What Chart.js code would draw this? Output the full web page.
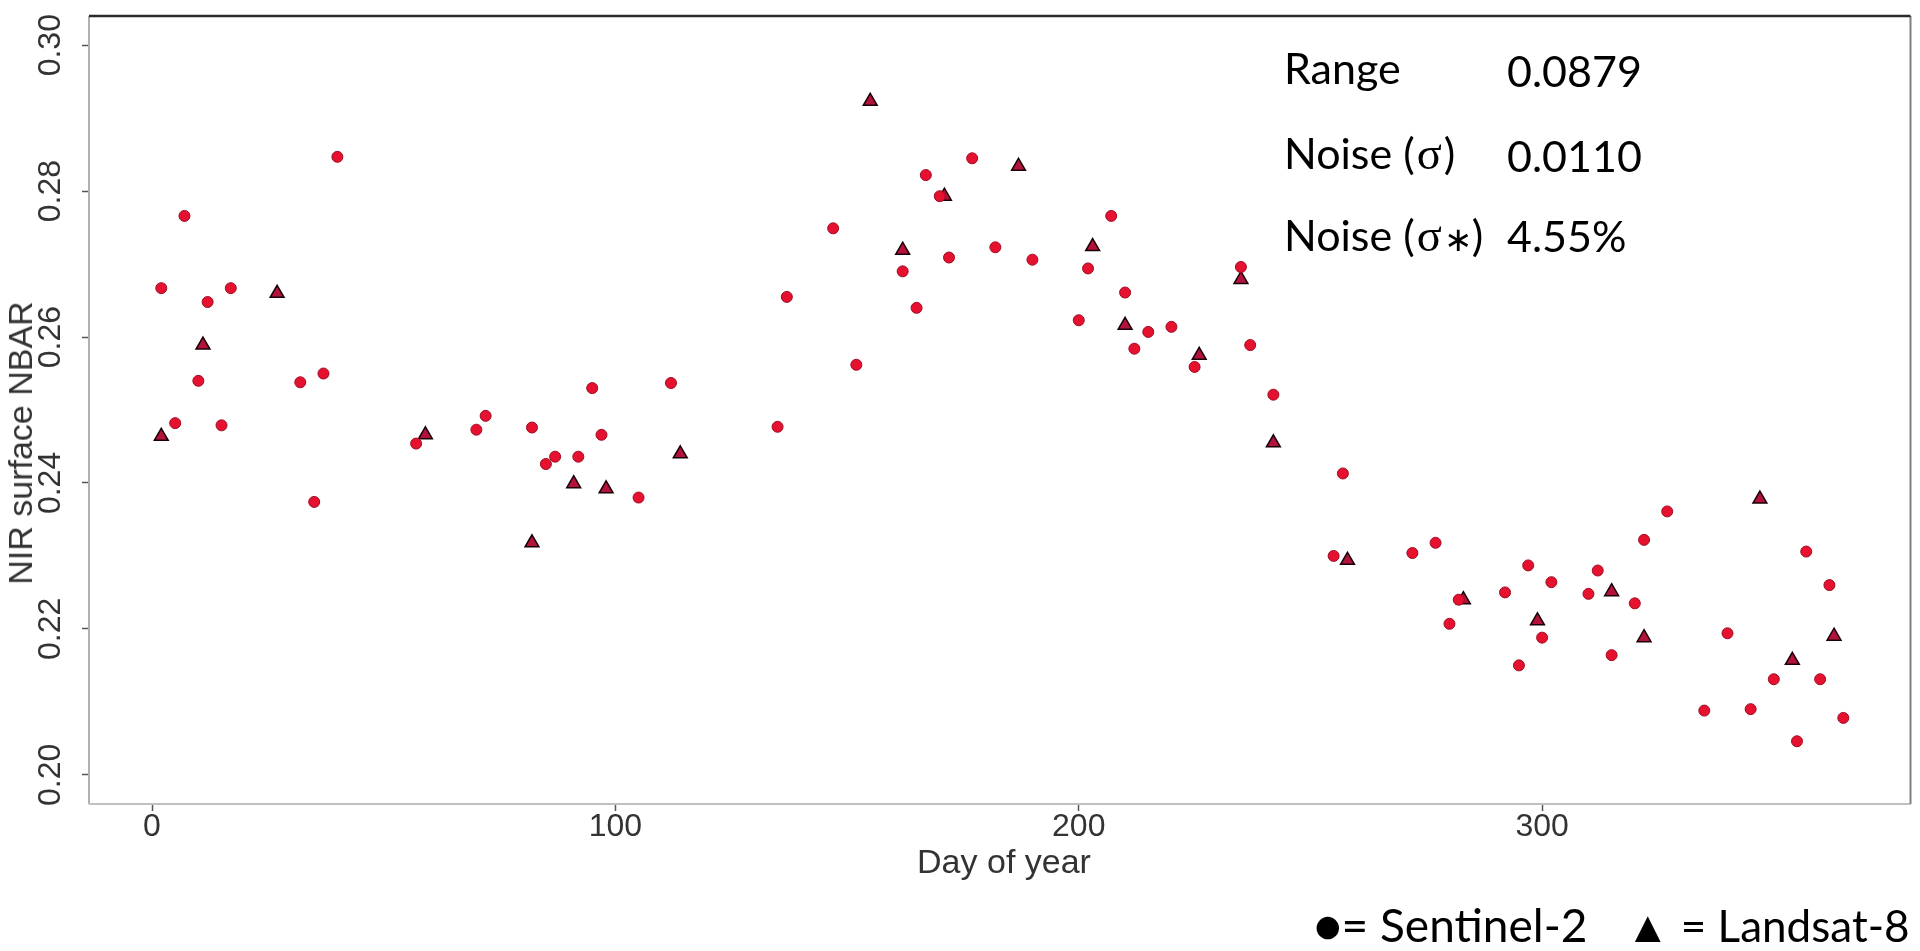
<!DOCTYPE html>
<html>
<head>
<meta charset="utf-8">
<script src="https://cdn.jsdelivr.net/npm/chart.js@4.4.1/dist/chart.umd.min.js"></script>
<style>
  body { margin: 0; background: #fff; }
  #wrap { position: relative; width: 1920px; height: 951px; }
  .lbl { position: absolute; white-space: nowrap; line-height: 1; color: #000;
         font-family: Lato, 'Open Sans', sans-serif; }
  .stat { font-size: 43px; }
  .sym { font-family: 'Liberation Serif', serif; font-size: 1.08em; padding: 0 2px; }
  .ast { font-family: 'Liberation Serif', serif; font-size: 0.8em; }
  .axt { position: absolute; white-space: nowrap; line-height: 1; color: #333;
         font-family: 'Liberation Sans', Arial, sans-serif; font-size: 34px; }
</style>
</head>
<body>
<div id="wrap">
  <canvas id="myChart"></canvas>
  <div class="axt" id="ytitle" style="left:20px; top:443px; transform: translate(-50%,-50%) rotate(-90deg);">NIR surface NBAR</div>
  <div class="axt" id="xtitle" style="left:1004px; top:861px; transform: translate(-50%,-50%);">Day of year</div>

  <div class="lbl stat" style="left:1284px; top:46px;">Range</div>
  <div class="lbl stat" style="left:1507px; top:49px;">0.0879</div>
  <div class="lbl stat" style="left:1284px; top:131px;">Noise (<span class="sym">σ</span>)</div>
  <div class="lbl stat" style="left:1507px; top:134px;">0.0110</div>
  <div class="lbl stat" style="left:1284px; top:213px;">Noise (<span class="sym">σ</span><span class="ast">∗</span>)</div>
  <div class="lbl stat" style="left:1507px; top:214px;">4.55%</div>

  <div class="lbl" style="left:1314px; top:902px; font-size:46px;">●= Sentinel-2</div>
  <div class="lbl" style="left:1626px; top:903px; font-size:44px;">▲ = Landsat-8</div>
</div>
<script>
// Sentinel-2 observations (circles)
var s2Days = [2, 5, 7, 10, 12, 15, 17, 32, 35, 37, 40, 57, 70, 72, 82, 85, 87, 92, 95, 97,
  105, 112, 135, 137, 147, 152, 162, 165, 167, 170, 172, 177, 182, 190, 200, 202, 207, 210,
  212, 215, 220, 225, 235, 237, 242, 255, 257, 272, 277, 280, 282, 292, 295, 297, 300, 302,
  310, 312, 315, 320, 322, 327, 335, 340, 345, 350, 355, 357, 360, 362, 365];
var s2Nbar = [0.2667, 0.2482, 0.2766, 0.2540, 0.2648, 0.2479, 0.2667, 0.2538, 0.2374, 0.2550,
  0.2847, 0.2454, 0.2473, 0.2492, 0.2476, 0.2426, 0.2436, 0.2436, 0.2530, 0.2466,
  0.2380, 0.2537, 0.2477, 0.2655, 0.2749, 0.2562, 0.2690, 0.2640, 0.2822, 0.2793,
  0.2709, 0.2845, 0.2723, 0.2706, 0.2623, 0.2694, 0.2766, 0.2661, 0.2584, 0.2607,
  0.2614, 0.2559, 0.2696, 0.2589, 0.2521, 0.2300, 0.2413, 0.2304, 0.2318, 0.2207,
  0.2240, 0.2250, 0.2150, 0.2287, 0.2188, 0.2264, 0.2248, 0.2280, 0.2164, 0.2235,
  0.2322, 0.2361, 0.2088, 0.2194, 0.2090, 0.2131, 0.2046, 0.2306, 0.2131, 0.2260, 0.2078];

// Landsat-8 observations (triangles)
var l8Days = [2, 11, 27, 59, 82, 91, 98, 114, 155, 162, 171, 187, 203, 210, 226, 235, 242,
  258, 283, 299, 315, 322, 347, 354, 363];
var l8Nbar = [0.2464, 0.2589, 0.2660, 0.2466, 0.2318, 0.2399, 0.2392, 0.2440, 0.2923, 0.2719,
  0.2793, 0.2834, 0.2724, 0.2616, 0.2575, 0.2679, 0.2455, 0.2294, 0.2240, 0.2211,
  0.2251, 0.2188, 0.2378, 0.2157, 0.2190];

var xTicks = [0, 100, 200, 300];
var yTicks = [0.20, 0.22, 0.24, 0.26, 0.28, 0.30];

function toPoints(days, vals) {
  var pts = [];
  for (var i = 0; i < days.length; i++) {
    pts.push({x: days[i], y: vals[i]});
  }
  return pts;
}

// plot frame, R style box
var frame = {
  id: 'frame',
  beforeDatasetsDraw: function(chart) {
    var a = chart.chartArea, ctx = chart.ctx;
    ctx.save();
    ctx.lineWidth = 2;
    ctx.strokeStyle = '#b0b0b0';
    ctx.beginPath(); ctx.moveTo(a.left, a.top); ctx.lineTo(a.left, a.bottom); ctx.stroke();
    ctx.strokeStyle = '#c0c0c0';
    ctx.beginPath(); ctx.moveTo(a.left, a.bottom); ctx.lineTo(a.right, a.bottom); ctx.stroke();
    ctx.strokeStyle = '#808080';
    ctx.beginPath(); ctx.moveTo(a.right, a.top); ctx.lineTo(a.right, a.bottom); ctx.stroke();
    ctx.lineWidth = 2.5;
    ctx.strokeStyle = '#2a2a2a';
    ctx.beginPath(); ctx.moveTo(a.left, a.top); ctx.lineTo(a.right, a.top); ctx.stroke();
    ctx.restore();
  }
};

var tickFont = {family: "'Liberation Sans', Arial, sans-serif", size: 32, lineHeight: 1};

var ctx = document.getElementById('myChart').getContext('2d');
var chart = new Chart(ctx, {
  type: 'scatter',
  data: {
    datasets: [{
      label: 'Sentinel-2',
      data: toPoints(s2Days, s2Nbar),
      pointStyle: 'circle',
      pointRadius: 5.5,
      backgroundColor: '#e5112f',
      borderColor: '#a00b24',
      borderWidth: 1
    }, {
      label: 'Landsat-8',
      data: toPoints(l8Days, l8Nbar),
      pointStyle: 'triangle',
      pointRadius: 8,
      backgroundColor: '#b3123a',
      borderColor: '#1a0008',
      borderWidth: 1.5
    }]
  },
  options: {
    responsive: true,
    maintainAspectRatio: false,
    animation: false,
    layout: { padding: {left: 0, top: 15, right: 1, bottom: 0} },
    plugins: {
      legend: { display: false },
      tooltip: { enabled: false }
    },
    scales: {
      x: {
        type: 'linear',
        min: -13.6,
        max: 379.5,
        afterBuildTicks: function(s) { s.ticks = xTicks.map(function(v) { return {value: v}; }); },
        afterFit: function(s) { s.height = 147; },
        border: { display: false },
        grid: { drawOnChartArea: false, drawTicks: true, tickLength: 7, tickColor: '#555', tickWidth: 1.5 },
        ticks: { autoSkip: false, padding: 0, color: '#333', font: tickFont, maxRotation: 0 }
      },
      y: {
        type: 'linear',
        min: 0.196,
        max: 0.304,
        afterBuildTicks: function(s) { s.ticks = yTicks.map(function(v) { return {value: v}; }); },
        afterFit: function(s) { s.width = 89; },
        border: { display: false },
        grid: { drawOnChartArea: false, drawTicks: true, tickLength: 7, tickColor: '#555', tickWidth: 1.5 },
        ticks: {
          autoSkip: false, padding: 0, color: '#333', font: tickFont,
          minRotation: 90, maxRotation: 90, crossAlign: 'center',
          callback: function(v) { return v.toFixed(2); }
        }
      }
    }
  },
  plugins: [frame]
});
</script>
</body>
</html>
